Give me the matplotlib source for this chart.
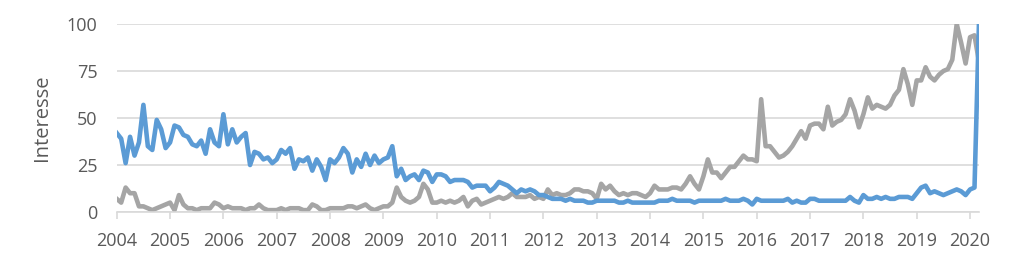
import numpy as np
import matplotlib.pyplot as plt

# Monthly interest values, Jan 2004 - Mar 2020
blue_values = [
    42, 39, 26, 40, 30, 37, 57, 35, 33, 49, 44, 34, 37, 46, 45, 41, 40, 36, 35, 38,
    31, 44, 37, 35, 52, 36, 44, 37, 40, 42, 25, 32, 31, 28, 29, 26, 28, 33, 31, 34,
    23, 28, 27, 29, 22, 28, 24, 17,
    28, 26, 29, 34, 31, 21, 28, 24, 31, 25, 30, 26, 28, 29, 35, 19, 23, 17, 19, 20,
    17, 22, 21, 16, 20, 20, 19, 16, 17, 17, 17, 16, 13, 14, 14, 14, 11, 13, 16, 15,
    14, 12, 10, 12, 11, 12, 11, 9, 9, 8,
    7, 7, 7, 6, 7, 6, 6, 6, 5, 5, 6, 6, 6, 6, 6, 5, 5, 6, 5, 5,
    5, 5, 5, 5, 6, 6, 6, 7, 6, 6, 6, 6, 5, 6, 6, 6, 6, 6, 6, 7,
    6, 6, 6, 7, 6, 4, 7, 6, 6, 6,
    6, 6, 6, 7, 5, 6, 5, 5, 7, 7, 6, 6, 6, 6, 6, 6, 6, 8, 6, 5,
    9, 7, 7, 8, 7, 8, 7, 7, 8, 8, 8, 7, 10, 13, 14, 10, 11, 10, 9, 10,
    11, 12, 11, 9, 12, 13, 100,
]
gray_values = [
    7, 5, 13, 10, 10, 3, 3, 2, 1, 2, 3, 4, 5, 1, 9, 4, 2, 2, 1, 2,
    2, 2, 5, 4, 2, 3, 2, 2, 2, 1, 2, 2, 4, 2, 1, 1, 1, 2, 1, 2,
    2, 2, 1, 1, 4, 3, 1, 1,
    2, 2, 2, 2, 3, 3, 2, 3, 4, 2, 1, 2, 3, 3, 5, 13, 8, 6, 5, 6,
    8, 15, 12, 5, 5, 6, 5, 6, 5, 6, 8, 3, 6, 7, 4, 5, 6, 7, 8, 7,
    8, 10, 8, 8, 8, 9, 7, 8, 7, 12,
    9, 10, 9, 9, 10, 12, 12, 11, 11, 10, 7, 15, 12, 14, 11, 9, 10, 9, 10, 10,
    9, 8, 10, 14, 12, 12, 12, 13, 13, 12, 15, 19, 15, 12, 19, 28, 21, 21, 18, 21,
    24, 24, 27, 30, 28, 28, 27, 60, 35, 35,
    32, 29, 30, 32, 35, 39, 43, 39, 46, 47, 47, 44, 56,
    46, 48, 49, 52, 60, 54, 45, 52, 61, 55, 57, 56, 55, 57, 62, 65, 76, 68, 57, 70,
    70, 77, 72, 70, 73, 75, 76, 81, 100, 90, 79, 93, 94, 80,
]
years = list(range(2004, 2021))

x = 2004 + np.arange(len(blue_values)) / 12

plt.rcParams['font.family'] = ['Open Sans', 'DejaVu Sans']
fig = plt.figure(figsize=(10.24, 2.67), dpi=100)
ax = fig.add_axes([0.114, 0.206, 0.842, 0.704])

ax.plot(x, gray_values, color='#A5A5A5', linewidth=3.3, solid_joinstyle='round')
ax.plot(x, blue_values, color='#5B9BD5', linewidth=3.3, solid_joinstyle='round')

ax.set_xlim(x[0], x[-1])
ax.set_ylim(0, 100)
ax.set_yticks([0, 25, 50, 75, 100])
ax.set_xticks(years)
ax.set_xticklabels([str(y) for y in years])

ax.grid(axis='y', color='#D9D9D9', linewidth=1.2)
ax.set_axisbelow(True)
for side in ['left', 'right', 'top']:
    ax.spines[side].set_visible(False)
ax.spines['bottom'].set_color('#D9D9D9')
ax.spines['bottom'].set_linewidth(1.2)

ax.tick_params(axis='x', colors='#595959', labelsize=13, length=5, width=1.2,
               color='#D9D9D9', pad=9.5)
ax.tick_params(axis='y', colors='#595959', labelsize=13, length=0, pad=14)

ax.set_ylabel('Interesse', fontsize=14.5, color='#595959')
ax.yaxis.set_label_coords(-0.0754, 0.5)

plt.savefig('out.png')
